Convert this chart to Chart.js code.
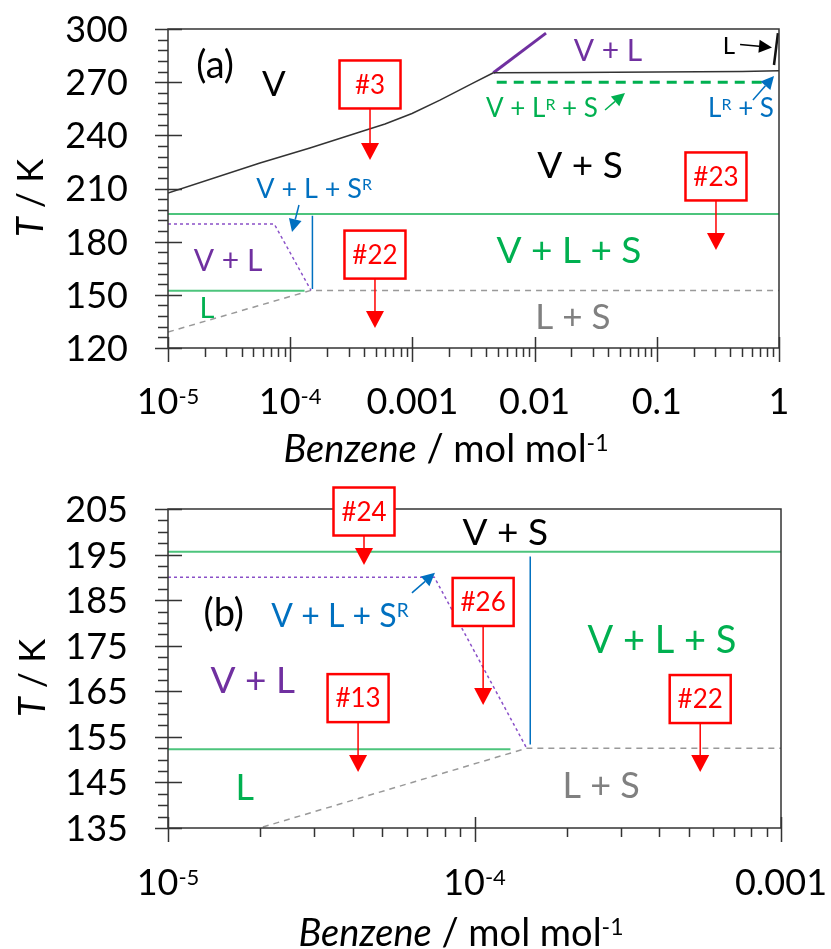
<!DOCTYPE html>
<html>
<head>
<meta charset="UTF-8">
<title>Benzeno - diagrama de fases</title>
<script src="https://cdn.jsdelivr.net/npm/chart.js"></script>
<style>
  body { margin: 0; background: #fff; }
  canvas { position: absolute; left: 0; }
</style>
</head>
<body>
<canvas id="graficoA" width="831" height="475" style="top:0"></canvas>
<canvas id="graficoB" width="831" height="474" style="top:475px"></canvas>
<script>
// ---- dados (x em mol/mol, T em K) ----
const subX = [1e-5, 5.66e-5, 1.45e-4, 3.72e-4, 5.97e-4, 9.93e-4, 1.68e-3, 3.13e-3, 4.6e-3];
const subT = [207.5, 224.4, 232.9, 241.9, 246.4, 252.3, 259.9, 269.5, 275.3];
const liqX = [4.6e-3, 0.02, 0.1, 0.5, 1];
const liqT = [275.3, 275.5, 275.7, 276.0, 276.5];
const vlX = [4.6e-3, 0.0124];
const vlT = [275.3, 297.7];
const lX = [0.91, 0.98];
const lT = [279.7, 297.7];
const triX = [4.9e-3, 0.84];
const triT = [270, 270];
const eutX = [1e-5, 1];
const eutT = [195.6, 195.6];
const orvX = [1e-5, 7.4e-5, 1.48e-4];
const orvT = [190, 190, 152.5];
const srX = [1.52e-4, 1.52e-4];
const srT = [194.6, 153.3];
const baixoX = [1e-5, 1.31e-4];
const baixoT = [152.3, 152.3];
const lsX = [1e-5, 1.48e-4, 1];
const lsT = [129, 152.5, 152.5];

const xTicksA = [1e-5, 1e-4, 1e-3, 1e-2, 1e-1, 1];
const xLabelsA = ['10^{-5}', '10^{-4}', '0.001', '0.01', '0.1', '1'];
const yTicksA = [120, 150, 180, 210, 240, 270, 300];
const xTicksB = [1e-5, 1e-4, 1e-3];
const xLabelsB = ['10^{-5}', '10^{-4}', '0.001'];
const yTicksB = [135, 145, 155, 165, 175, 185, 195, 205];

const PRETO = '#000', VERDE = '#00b050', VERDE_L = '#4cc47c', ROXO = '#7030a0',
      AZUL = '#0070c0', CINZA = '#808080', VERMELHO = '#ff0000', EIXO = '#333';

const linhas = [
  { x: subX, t: subT, cor: '#333', w: 1.5 },
  { x: liqX, t: liqT, cor: '#333', w: 1.5 },
  { x: vlX, t: vlT, cor: ROXO, w: 3 },
  { x: lX, t: lT, cor: '#111', w: 2.5 },
  { x: triX, t: triT, cor: VERDE, w: 3, dash: [10, 7] },
  { x: eutX, t: eutT, cor: VERDE_L, w: 2 },
  { x: orvX, t: orvT, cor: '#8a50c8', w: 1.5, dash: [3, 3] },
  { x: srX, t: srT, cor: AZUL, w: 1.5 },
  { x: baixoX, t: baixoT, cor: VERDE_L, w: 2 },
  { x: lsX, t: lsT, cor: '#999', w: 1.5, dash: [6, 5] }
];

// rótulos das regiões
const rotulosA = [
  { t: '(a)', x: 2.43e-5, T: 280.2, c: PRETO, s: 38 },
  { t: 'V', x: 7.36e-5, T: 269.5, c: PRETO, s: 35 },
  { t: 'V + L', x: 0.0399, T: 288.1, c: ROXO, s: 30 },
  { t: 'L', x: 0.39, T: 291, c: PRETO, s: 24 },
  { t: 'V + L^{R} + S', x: 0.0115, T: 255.4, c: VERDE, s: 26 },
  { t: 'L^{R} + S', x: 0.489, T: 255.4, c: AZUL, s: 26 },
  { t: 'V + S', x: 0.0235, T: 223.3, c: PRETO, s: 37 },
  { t: 'V + L + S^{R}', x: 1.57e-4, T: 210.3, c: AZUL, s: 27 },
  { t: 'V + L', x: 3.1e-5, T: 169.6, c: ROXO, s: 30 },
  { t: 'L', x: 2.08e-5, T: 143.1, c: VERDE, s: 29 },
  { t: 'V + L + S', x: 0.0191, T: 175.3, c: VERDE, s: 37 },
  { t: 'L + S', x: 0.0206, T: 138, c: CINZA, s: 35 }
];
const rotulosB = [
  { t: 'V + S', x: 1.26e-4, T: 200.0, c: PRETO, s: 37 },
  { t: '(b)', x: 1.52e-5, T: 182.4, c: PRETO, s: 38 },
  { t: 'V + L + S^{R}', x: 3.64e-5, T: 181.7, c: AZUL, s: 32 },
  { t: 'V + L + S', x: 4.09e-4, T: 176.3, c: VERDE, s: 38 },
  { t: 'V + L', x: 1.89e-5, T: 167.5, c: ROXO, s: 37 },
  { t: 'L', x: 1.78e-5, T: 144.0, c: VERDE, s: 36 },
  { t: 'L + S', x: 2.59e-4, T: 144.4, c: CINZA, s: 36 }
];
// setas coloridas: de (x1,T1) até (x2,T2)
const setasA = [
  { x1: 1.18e-4, T1: 200.7, x2: 1.035e-4, T2: 185.4, c: AZUL },
  { x1: 0.0377, T1: 254.3, x2: 0.0549, T2: 263.9, c: VERDE },
  { x1: 0.612, T1: 259.9, x2: 0.91, T2: 273.5, c: AZUL },
  { x1: 0.48, T1: 291.3, x2: 0.876, T2: 289.6, c: PRETO }
];
const setasB = [
  { x1: 6.25e-5, T1: 186.6, x2: 7.43e-5, T2: 191.0, c: AZUL }
];
// etiquetas vermelhas (#n): centro da caixa e ponta da seta
const tagsA = [
  { t: '#3', x: 4.5e-4, T: 268.7, ponta: 226.1 },
  { t: '#22', x: 4.94e-4, T: 172.7, ponta: 131.3 },
  { t: '#23', x: 0.305, T: 216.8, ponta: 175.3 }
];
const tagsB = [
  { t: '#24', x: 4.36e-5, T: 204.45, ponta: 192.7 },
  { t: '#26', x: 1.067e-4, T: 184.6, ponta: 162.0 },
  { t: '#13', x: 4.17e-5, T: 163.5, ponta: 147.3 },
  { t: '#22', x: 5.45e-4, T: 163.3, ponta: 147.3 }
];

function textoRico(ctx, txt, x, y, size, color, align, rot) {
  const partes = [];
  const re = /\*([^*]+)\*|\^\{([^}]+)\}|([^*^]+)/g;
  let m;
  while ((m = re.exec(txt))) {
    if (m[1]) partes.push({ t: m[1], it: true });
    else if (m[2]) partes.push({ t: m[2], sup: true });
    else partes.push({ t: m[3] });
  }
  const fonte = p => (p.it ? 'italic ' : '') + Math.round(p.sup ? size * 0.6 : size) + 'px Lato';
  ctx.save();
  ctx.translate(x, y);
  if (rot) ctx.rotate(rot);
  let w = 0;
  partes.forEach(p => { ctx.font = fonte(p); p.w = ctx.measureText(p.t).width; w += p.w; });
  let cx = align === 'right' ? -w : (align === 'left' ? 0 : -w / 2);
  ctx.fillStyle = color;
  ctx.textAlign = 'left';
  ctx.textBaseline = 'alphabetic';
  const base = size * 0.36;
  partes.forEach(p => {
    ctx.font = fonte(p);
    ctx.fillText(p.t, cx, p.sup ? base - size * 0.29 : base);
    cx += p.w;
  });
  ctx.restore();
}

function seta(ctx, x1, y1, x2, y2, cor, larg, comp, abert) {
  const a = Math.atan2(y2 - y1, x2 - x1);
  const bx = x2 - comp * Math.cos(a), by = y2 - comp * Math.sin(a);
  ctx.strokeStyle = cor;
  ctx.lineWidth = larg;
  ctx.beginPath(); ctx.moveTo(x1, y1); ctx.lineTo(bx, by); ctx.stroke();
  ctx.fillStyle = cor;
  ctx.beginPath();
  ctx.moveTo(x2, y2);
  ctx.lineTo(bx + abert * Math.sin(a), by - abert * Math.cos(a));
  ctx.lineTo(bx - abert * Math.sin(a), by + abert * Math.cos(a));
  ctx.closePath();
  ctx.fill();
}

const decor = {
  id: 'decor',
  afterDraw(chart, args, p) {
    const ctx = chart.ctx, a = chart.chartArea;
    const sx = chart.scales.x, sy = chart.scales.y;
    const X = v => sx.getPixelForValue(v), Y = v => sy.getPixelForValue(v);
    ctx.save();
    // moldura
    ctx.strokeStyle = EIXO;
    ctx.lineWidth = 1.5;
    ctx.strokeRect(a.left, a.top, a.right - a.left, a.bottom - a.top);
    // marcas do eixo y
    ctx.beginPath();
    for (let v = p.yMin; v <= p.yMax + 1e-6; v += p.yMenor) {
      const y = Math.round(Y(v)) + 0.5;
      const r = (v - p.yMin) % p.yMaior;
      const maior = r < 1e-6 || p.yMaior - r < 1e-6;
      ctx.moveTo(a.left - (maior ? 13 : 10), y);
      ctx.lineTo(a.left + (maior ? 14 : 0), y);
    }
    // marcas do eixo x (log)
    for (let e = Math.round(Math.log10(p.xMin)); e <= Math.round(Math.log10(p.xMax)); e++) {
      for (let k = 1; k <= 9; k++) {
        const v = k * Math.pow(10, e);
        if (v > p.xMax * 1.0001) break;
        const x = Math.round(X(v)) + 0.5;
        ctx.moveTo(x, a.bottom - (k === 1 ? 11 : 0));
        ctx.lineTo(x, a.bottom + (k === 1 ? 14 : 9));
      }
    }
    ctx.stroke();
    // rótulos dos eixos
    p.yTicks.forEach(v => textoRico(ctx, String(v), a.left - 40, Y(v), 36, PRETO, 'right'));
    p.xTicks.forEach((v, i) => textoRico(ctx, p.xLabels[i], X(v), p.xLabelY, 36, PRETO, 'center'));
    textoRico(ctx, '*Benzene* / mol mol^{-1}', p.xTitulo[0], p.xTitulo[1], 38, PRETO, 'center');
    textoRico(ctx, '*T* / K', p.yTitulo[0], p.yTitulo[1], 36, PRETO, 'center', -Math.PI / 2);
    // regiões
    p.rotulos.forEach(r => textoRico(ctx, r.t, X(r.x), Y(r.T), r.s, r.c, 'center'));
    p.setas.forEach(s => seta(ctx, X(s.x1), Y(s.T1), X(s.x2), Y(s.T2), s.c, 1.5, 13, 6.5));
    // etiquetas vermelhas
    p.tags.forEach(g => {
      const cx = X(g.x), cy = Y(g.T), w = 61, h = 48;
      ctx.fillStyle = '#fff';
      ctx.fillRect(cx - w / 2, cy - h / 2, w, h);
      ctx.strokeStyle = VERMELHO;
      ctx.lineWidth = 2.5;
      ctx.strokeRect(cx - w / 2, cy - h / 2, w, h);
      textoRico(ctx, g.t, cx, cy, 26, VERMELHO, 'center');
      seta(ctx, cx, cy + h / 2, cx, Y(g.ponta), VERMELHO, 1.5, 17, 9);
    });
    ctx.restore();
  }
};

function criarPainel(id, p) {
  const canvas = document.getElementById(id);
  const H = canvas.height;
  const datasets = linhas.map(l => ({
    data: l.x.map((v, i) => ({ x: v, y: l.t[i] })),
    borderColor: l.cor,
    borderWidth: l.w,
    borderDash: l.dash || [],
    showLine: true,
    pointRadius: 0,
    fill: false,
    tension: 0
  }));
  return new Chart(canvas, {
    type: 'scatter',
    data: { datasets },
    options: {
      responsive: false,
      animation: false,
      devicePixelRatio: 1,
      layout: { padding: { left: 0, top: p.area[1], right: 831 - p.area[2], bottom: 0 } },
      plugins: { legend: { display: false }, tooltip: { enabled: false }, decor: p },
      scales: {
        x: {
          type: 'logarithmic', min: p.xMin, max: p.xMax,
          grid: { display: false }, border: { display: false }, ticks: { display: false },
          afterFit: s => { s.height = H - p.area[3]; }
        },
        y: {
          type: 'linear', min: p.yMin, max: p.yMax,
          grid: { display: false }, border: { display: false }, ticks: { display: false },
          afterFit: s => { s.width = p.area[0]; }
        }
      }
    },
    plugins: [decor]
  });
}

criarPainel('graficoA', {
  area: [168, 29, 779, 348],
  xMin: 1e-5, xMax: 1, yMin: 120, yMax: 300, yMaior: 30, yMenor: 6,
  xTicks: xTicksA, xLabels: xLabelsA, yTicks: yTicksA, xLabelY: 401,
  xTitulo: [446, 448], yTitulo: [30, 198],
  rotulos: rotulosA, setas: setasA, tags: tagsA
});
criarPainel('graficoB', {
  area: [168, 34, 781, 353],
  xMin: 1e-5, xMax: 1e-3, yMin: 135, yMax: 205, yMaior: 10, yMenor: 2.5,
  xTicks: xTicksB, xLabels: xLabelsB, yTicks: yTicksB, xLabelY: 407,
  xTitulo: [461, 457], yTitulo: [32, 203],
  rotulos: rotulosB, setas: setasB, tags: tagsB
});
</script>
</body>
</html>
